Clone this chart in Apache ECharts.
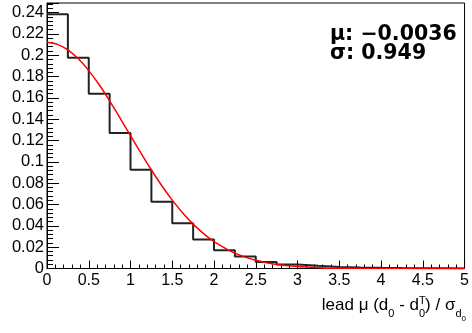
<!DOCTYPE html>
<html><head><meta charset="utf-8">
<script src="https://cdn.jsdelivr.net/npm/echarts@6/dist/echarts.min.js"></script>
<style>html,body{margin:0;padding:0;background:#fff}#c{width:472px;height:333px}</style>
</head><body><div id="c"></div>
<script>
// Histogram bin edges (width 0.25) and contents
const binEdges = [0,0.25,0.5,0.75,1,1.25,1.5,1.75,2,2.25,2.5,2.75,3,3.25,3.5,3.75,4,4.25,4.5,4.75,5];
const binValues = [0.2384,0.1976,0.1638,0.1270,0.0925,0.0627,0.0424,0.0273,0.0172,0.0112,0.0060,0.0038,0.0025,0.0015,0.0010,0.0006,0.0004,0.0003,0.0002,0.0001];
// Red fit curve
const fitX = [0,0.125,0.25,0.375,0.5,0.625,0.75,0.875,1,1.125,1.25,1.375,1.5,1.625,1.75,1.875,2,2.25,2.5,2.75,3,3.25,3.5,3.75,4,4.5,5];
const fitY = [0.2122,0.2102,0.2051,0.1967,0.1856,0.1723,0.1572,0.1411,0.1246,0.1082,0.0924,0.0776,0.0641,0.0521,0.0416,0.0327,0.0253,0.0144,0.0077,0.0038,0.0018,0.0008,0.0003,0.0001,0.00004,0,0];
const statLines = ['μ: −0.0036', 'σ: 0.949'];
const yMax = 0.249;

const chart = echarts.init(document.getElementById('c'), null, {renderer:'canvas'});
const F = 'Liberation Sans, Arial, Helvetica, sans-serif';
const labelSize = 16;

const histData = binEdges.map((e,i)=>[e, binValues[Math.min(i, binValues.length-1)]]);
const fitData = fitX.map((x,i)=>[x, fitY[i]]);

// axis title built from pieces, right aligned at plot's right edge
const ctx = document.createElement('canvas').getContext('2d');
function w(t, s){ ctx.font = s+'px '+F; return ctx.measureText(t).width; }
const mainS = 17, subS = 11, subsubS = 8;
const pieces = [
  {t:'lead μ (d', s:mainS, dy:0},
  {t:'0', s:subS, dy:5},
  {t:' - d', s:mainS, dy:0},
  {t:'0', s:subS, dy:5, sup:'T'},
  {t:') / σ', s:mainS, dy:0},
  {t:'d', s:subS, dy:5},
  {t:'0', s:subsubS, dy:9}
];
const rightX = 466, baseY = 314;
let total = 0;
pieces.forEach(p=>{ p.w = w(p.t,p.s); total += p.w; });
let x = rightX - total;
const titleEls = [];
pieces.forEach(p=>{
  titleEls.push({type:'text', x:x, y:baseY+p.dy, style:{text:p.t, font:p.s+'px '+F, fill:'#000', verticalAlign:'bottom'}});
  if (p.sup) titleEls.push({type:'text', x:x, y:baseY-8, style:{text:p.sup, font:subS+'px '+F, fill:'#000', verticalAlign:'bottom'}});
  x += p.w;
});

const statEls = statLines.map((t,i)=>({type:'text', x:330, y:35+i*18.5, style:{text:t, font:'bold 20.5px DejaVu Sans, sans-serif', fill:'#000', verticalAlign:'middle'}}));

chart.setOption({
  animation:false,
  backgroundColor:'#fff',
  grid:{left:47, right:6, top:3, bottom:64.5, show:true, borderColor:'#000', borderWidth:1, backgroundColor:'transparent'},
  xAxis:{type:'value', min:0, max:5, interval:0.5,
    axisLine:{lineStyle:{color:'#000', width:1}},
    axisTick:{inside:true, length:8, lineStyle:{color:'#000'}},
    minorTick:{show:true, splitNumber:5, length:4, lineStyle:{color:'#000'}},
    splitLine:{show:false},
    axisLabel:{fontFamily:F, fontSize:labelSize, color:'#000', margin:4, formatter:v=>String(+v.toFixed(2))}
  },
  yAxis:{type:'value', min:0, max:yMax, interval:0.02,
    axisLine:{lineStyle:{color:'#000', width:1}},
    axisTick:{inside:true, length:12, lineStyle:{color:'#000'}},
    minorTick:{show:true, splitNumber:5, length:6, lineStyle:{color:'#000'}},
    splitLine:{show:false},
    axisLabel:{fontFamily:F, fontSize:16.5, color:'#000', margin:3, showMaxLabel:false, formatter:v=>String(+v.toFixed(3))}
  },
  series:[
    {type:'line', data:histData, step:'end', showSymbol:false, lineStyle:{color:'#222', width:2}, z:2, silent:true},
    {type:'line', data:fitData, smooth:0.3, showSymbol:false, lineStyle:{color:'#f00', width:1.5}, z:3, silent:true}
  ],
  graphic: titleEls.concat(statEls)
});
</script></body></html>
